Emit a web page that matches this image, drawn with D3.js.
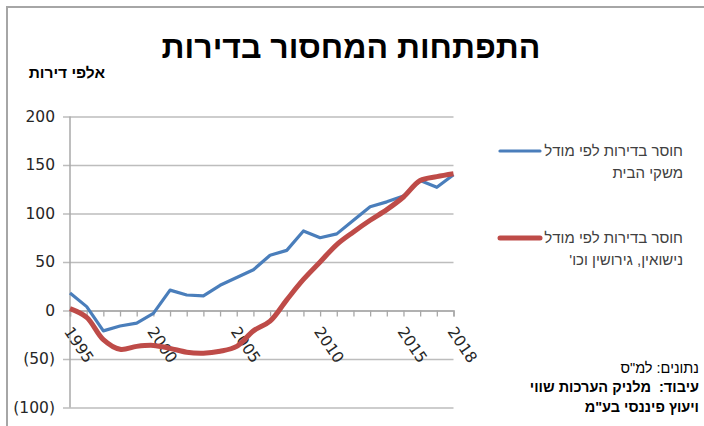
<!DOCTYPE html>
<html>
<head>
<meta charset="utf-8">
<script src="https://cdn.jsdelivr.net/npm/d3@7"></script>
<style>
  html, body { margin: 0; padding: 0; background: #fff; }
  svg { display: block; }
  text { white-space: pre; }
</style>
</head>
<body>
<svg id="chart" width="704" height="426"></svg>
<script>
// Housing shortage, thousands of dwellings, 1995–2018
const years = d3.range(1995, 2019);
const householdModel = [18, 4, -21, -16, -13, -3, 21, 16, 15, 26, 34, 42, 57, 62, 82, 75, 79, 93, 107, 112, 118, 134, 127, 140];
const marriageModel = [2, -7, -30, -40, -37, -36, -39, -43, -44, -42, -37, -21, -11, 11, 32, 50, 68, 81, 93, 104, 117, 134, 138, 141];
const yTicks = [200, 150, 100, 50, 0, -50, -100];
const xLabelYears = [1995, 2000, 2005, 2010, 2015, 2018];

const RLM = "\u200F";
const heb = s => RLM + s + RLM;

const titleText = "התפתחות המחסור בדירות";
const unitText = "אלפי דירות";
const seriesNames = [
  ["חוסר בדירות לפי מודל", "משקי הבית"],
  ["חוסר בדירות לפי מודל", "נישואין, גירושין וכו'"]
];
const notes = ["נתונים: למ\"ס", "עיבוד:  מלניק הערכות שווי", "ויעוץ פיננסי בע\"מ"];

const colors = ["#4A7EBB", "#BE4B48"];
const widths = [3.2, 5];
const curves = [d3.curveLinear, d3.curveCatmullRom.alpha(0.5)];

const svg = d3.select("#chart");

// outer frame (top and left edges visible)
svg.append("path")
  .attr("d", "M7,426 V7 H704")
  .attr("fill", "none")
  .attr("stroke", "#a6a6a6")
  .attr("stroke-width", 2);

const x = d3.scaleLinear().domain([1995, 2018]).range([70, 453.5]);
const y = d3.scaleLinear().domain([-100, 200]).range([407.5, 116.5]);

// horizontal gridlines with outward ticks
const yAxis = d3.axisLeft(y).tickValues(yTicks).tickSize(-(453.5 - 70)).tickPadding(10)
  .tickFormat(d => d < 0 ? "(" + Math.abs(d) + ")" : String(d));
const gy = svg.append("g").attr("transform", "translate(70,0)").call(yAxis);
gy.select(".domain").remove();
gy.selectAll(".tick line").attr("stroke", "#bdbdbd").attr("stroke-width", 1.5).attr("x1", -7);
gy.selectAll(".tick text")
  .attr("font-family", "DejaVu Sans").attr("font-size", 15.5).attr("fill", "#262626").attr("x", -15);

// vertical axis line
svg.append("line")
  .attr("x1", 70).attr("x2", 70).attr("y1", y(200)).attr("y2", y(-100))
  .attr("stroke", "#a8a8a8").attr("stroke-width", 1.5);

// horizontal axis at zero with a tick for every year
const xAxis = d3.axisBottom(x).tickValues(years).tickSize(6).tickFormat("");
const gx = svg.append("g").attr("transform", `translate(0,${y(0)})`).call(xAxis);
gx.select(".domain").attr("stroke", "#a8a8a8").attr("stroke-width", 1.5);
gx.selectAll(".tick line").attr("stroke", "#a8a8a8").attr("stroke-width", 1.3);

svg.append("g").selectAll("text").data(xLabelYears).join("text")
  .attr("transform", d => `translate(${x(d) - 2},${y(0) + 18}) rotate(56)`)
  .attr("dy", "0.35em")
  .attr("font-family", "DejaVu Sans").attr("font-size", 15.5).attr("fill", "#262626")
  .text(d => d);

// series lines
[householdModel, marriageModel].forEach((vals, k) => {
  const line = d3.line().x((d, i) => x(years[i])).y(d => y(d)).curve(curves[k]);
  svg.append("path")
    .datum(vals)
    .attr("d", line)
    .attr("fill", "none")
    .attr("stroke", colors[k])
    .attr("stroke-width", widths[k])
    .attr("stroke-linejoin", "round")
    .attr("stroke-linecap", "butt");
});

// title and unit label
svg.append("text")
  .attr("x", 351).attr("y", 58)
  .attr("text-anchor", "middle")
  .attr("font-family", "Liberation Sans").attr("font-weight", "bold").attr("font-size", 32)
  .attr("fill", "#000")
  .text(heb(titleText));

svg.append("text")
  .attr("x", 105).attr("y", 78)
  .attr("text-anchor", "end")
  .attr("font-family", "Liberation Sans").attr("font-weight", "bold").attr("font-size", 15.5)
  .attr("fill", "#000")
  .text(heb(unitText));

// legend
const legendY = [151, 238];
seriesNames.forEach((lines, k) => {
  const g = svg.append("g");
  g.append("line")
    .attr("x1", 500).attr("x2", 540).attr("y1", legendY[k]).attr("y2", legendY[k])
    .attr("stroke", colors[k]).attr("stroke-width", widths[k]).attr("stroke-linecap", "round");
  lines.forEach((t, j) => {
    g.append("text")
      .attr("x", 683).attr("y", legendY[k] + j * 22)
      .attr("dy", "0.35em")
      .attr("text-anchor", "end")
      .attr("font-family", "Liberation Sans").attr("font-size", 15)
      .attr("fill", "#404040")
      .text(heb(t));
  });
});

// source notes
const noteY = [368, 387, 407];
notes.forEach((t, j) => {
  svg.append("text")
    .attr("x", 699).attr("y", noteY[j])
    .attr("dy", "0.35em")
    .attr("text-anchor", "end")
    .attr("font-family", "Liberation Sans").attr("font-size", 14.5)
    .attr("font-weight", j === 0 ? "normal" : "bold")
    .attr("fill", "#000")
    .text(heb(t));
});
</script>
</body>
</html>
